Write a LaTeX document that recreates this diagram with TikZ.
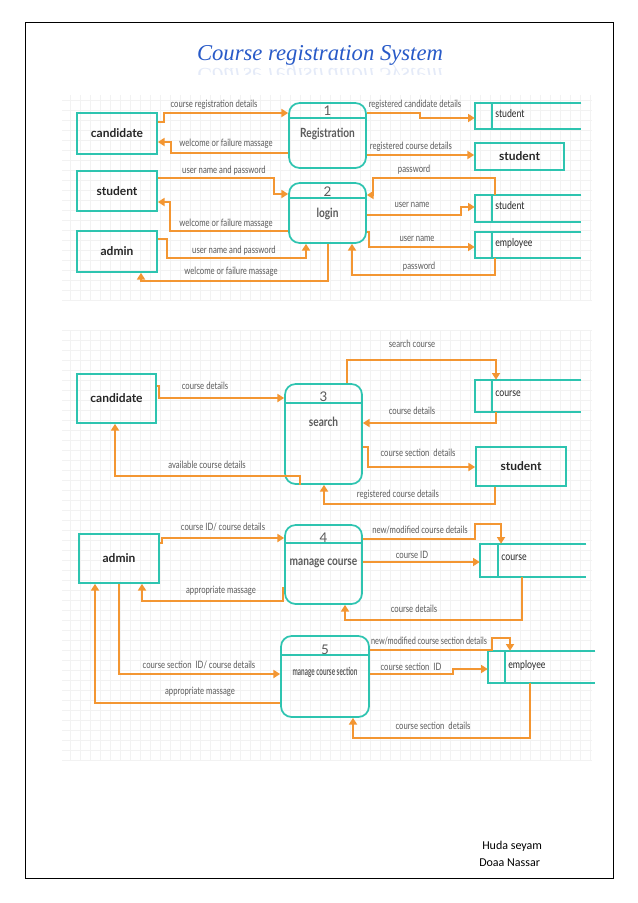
\documentclass[tikz,border=0pt]{standalone}
\usepackage{fontspec}
\setmainfont{Lato}
\newfontfamily\titlefont{Liberation Serif}
\newfontfamily\footfont{Carlito}
\usetikzlibrary{arrows.meta,calc}
\definecolor{tealc}{RGB}{46,196,176}
\definecolor{orc}{RGB}{243,150,50}
\definecolor{txt}{RGB}{90,90,90}
\definecolor{titleblue}{RGB}{40,90,200}
\def\px{0.75pt}
\begin{document}
\begin{tikzpicture}[x=0.75pt,y=-0.75pt,
  ent/.style={draw=tealc,line width=1.3pt,inner sep=0pt,font=\bfseries\fontsize{9}{10}\selectfont,text=black!85},
  proc/.style={draw=tealc,line width=1.3pt,rounded corners=8pt,inner sep=0pt},
  storebox/.style={inner sep=0pt},
  storeline/.style={draw=tealc,line width=1.3pt},
  stxt/.style={anchor=west,inner sep=1pt,font=\fontsize{8.2}{9}\selectfont,text=black!85,xscale=0.8},
  pnum/.style={inner sep=0pt,font=\fontsize{10}{11}\selectfont,text=txt},
  pname/.style={inner sep=0pt,font=\bfseries\fontsize{9.5}{11}\selectfont,text=txt,xscale=0.8},
  flow/.style={draw=orc,line width=1.4pt,-{Triangle[width=6pt,length=5pt]}},
  lbl/.style={inner sep=0pt,font=\fontsize{7.6}{9}\selectfont,text=txt,xscale=0.76}]
\useasboundingbox (0,0) rectangle (638,903);
\fill[white] (0,0) rectangle (638,903);
% grids
\draw[black!5,step=7.5pt] (62,95) grid (592,300);
\draw[black!5,step=7.5pt] (62,330) grid (592,760);
% frame
\draw[black,line width=0.5pt] (25,22) rectangle (613,878);
% title
\node[inner sep=0pt,font=\titlefont\itshape\fontsize{17}{20}\selectfont,text=titleblue] (title) at (320,55) {Course registration System};
\begin{scope}
\clip (150,64) rectangle (500,74);
\node[inner sep=0pt,font=\titlefont\itshape\fontsize{17}{20}\selectfont,text=titleblue,yscale=-1,opacity=0.12] (titlerefl) at (320,74) {Course registration System};
\end{scope}
% footer
\node[anchor=west,inner sep=0pt,font=\footfont\fontsize{9}{11}\selectfont] (f1) at (482,846) {Huda seyam};
\node[anchor=west,inner sep=0pt,font=\footfont\fontsize{9}{11}\selectfont] (f2) at (479,863) {Doaa Nassar};

% ===== section 1 =====
\node[ent,minimum width=80*\px,minimum height=41*\px] (cand) at (117,133.5) {candidate};
\node[ent,minimum width=80*\px,minimum height=40*\px] (stu) at (117,191) {student};
\node[ent,minimum width=80*\px,minimum height=41*\px] (adm) at (117,251.5) {admin};
\node[proc,minimum width=77*\px,minimum height=65*\px] (p1) at (327.5,135.5) {};
\draw[tealc,line width=1.3pt] (p1.west|-0,118) -- (p1.east|-0,118);
\node[pnum] (p1n) at (327.5,111) {1};
\node[pname] (p1t) at (327.5,134) {Registration};
\node[proc,minimum width=77*\px,minimum height=60*\px] (p2) at (327.5,213) {};
\draw[tealc,line width=1.3pt] (p2.west|-0,198) -- (p2.east|-0,198);
\node[pnum] (p2n) at (327.5,192) {2};
\node[pname] (p2t) at (327.5,214) {login};
% stores
\node[storebox,minimum width=106*\px,minimum height=26*\px] (s1) at (528,116) {};
\draw[storeline] (s1.north east)--(s1.north west)--(s1.south west)--(s1.south east);
\draw[storeline] (s1.north -| 492,0) -- (s1.south -| 492,0);
\node[stxt] (s1t) at (494,114) {student};
\node[ent,minimum width=89*\px,minimum height=27*\px] (bst) at (519.5,156.5) {student};
\node[storebox,minimum width=106*\px,minimum height=27*\px] (s2) at (528,208.5) {};
\draw[storeline] (s2.north east)--(s2.north west)--(s2.south west)--(s2.south east);
\draw[storeline] (s2.north -| 492,0) -- (s2.south -| 492,0);
\node[stxt] (s2t) at (494,206) {student};
\node[storebox,minimum width=106*\px,minimum height=26*\px] (s3) at (528,245) {};
\draw[storeline] (s3.north east)--(s3.north west)--(s3.south west)--(s3.south east);
\draw[storeline] (s3.north -| 492,0) -- (s3.south -| 492,0);
\node[stxt] (s3t) at (494,243) {employee};
% flows
\draw[flow] (cand.east|-0,122) -| (164,113) -- (p1.west|-0,113);
\draw[flow] (p1.west|-0,153) -| (171,142) -- (cand.east|-0,142);
\draw[flow] (p1.east|-0,113) -| (420,118) -- (s1.west|-0,118);
\draw[flow] (p1.east|-0,155) -- (bst.west|-0,155);
\draw[flow] (stu.east|-0,178) -| (274,194) -- (p2.west|-0,194);
\draw[flow] (p2.west|-0,231) -| (170,202) -- (stu.east|-0,202);
\draw[flow] (s2.north -| 495,0) -- (495,178) -| (373,195) -- (p2.east|-0,195);
\draw[flow] (p2.east|-0,215) -| (461,207) -- (s2.west|-0,207);
\draw[flow] (p2.east|-0,232) -| (369,247) -- (s3.west|-0,247);
\draw[flow] (s3.south -| 495,0) |- (352,275) -- (p2.south -| 352,0);
\draw[flow] (adm.east|-0,239) -| (167,258) -| (p2.south -| 306,0);
\draw[flow] (p2.south -| 328,0) |- (141,281) -- (adm.south -| 141,0);
\node[lbl] (l1) at (214,105) {course registration details};
\node[lbl] (l2) at (226,144) {welcome or failure massage};
\node[lbl] (l3) at (415,105) {registered candidate details};
\node[lbl] (l4) at (411,147) {registered course details};
\node[lbl] (l5) at (224,171) {user name and password};
\node[lbl] (l6) at (226,224) {welcome or failure massage};
\node[lbl] (l7) at (414,170) {password};
\node[lbl] (l8) at (412,205) {user name};
\node[lbl] (l9) at (417,239) {user name};
\node[lbl] (l10) at (419,267) {password};
\node[lbl] (l11) at (234,251) {user name and password};
\node[lbl] (l12) at (231,272) {welcome or failure massage};

% ===== section 2 =====
\node[ent,minimum width=79*\px,minimum height=49*\px] (cand2) at (116.5,398.5) {candidate};
\node[proc,minimum width=77*\px,minimum height=100*\px] (p3) at (323.5,434) {};
\draw[tealc,line width=1.3pt] (p3.west|-0,403) -- (p3.east|-0,403);
\node[pnum] (p3n) at (323.5,397) {3};
\node[pname] (p3t) at (323.5,422) {search};
\node[storebox,minimum width=106*\px,minimum height=32*\px] (c1s) at (528,396) {};
\draw[storeline] (c1s.north east)--(c1s.north west)--(c1s.south west)--(c1s.south east);
\draw[storeline] (c1s.north -| 492,0) -- (c1s.south -| 492,0);
\node[stxt] (c1t) at (494,394) {course};
\node[ent,minimum width=90*\px,minimum height=39*\px] (bst2) at (521,466.5) {student};
\draw[flow] (cand2.east|-0,386) -| (159,398) -- (p3.west|-0,398);
\draw[flow] (p3.north -| 347,0) |- (496,360) -- (c1s.north -| 496,0);
\draw[flow] (c1s.south -| 496,0) |- (p3.east|-0,423);
\draw[flow] (p3.east|-0,447) -| (368,467) -- (bst2.west|-0,467);
\draw[flow] (bst2.south -| 495,0) |- (324,504) -- (p3.south -| 324,0);
\draw[flow] (p3.south -| 300,0) |- (115,476) -- (cand2.south -| 115,0);
\node[lbl] (m1) at (205,386) {course details};
\node[lbl] (m2) at (412,344) {search course};
\node[lbl] (m3) at (412,411) {course details};
\node[lbl] (m4) at (418,453) {course section\ \ details};
\node[lbl] (m5) at (398,495) {registered course details};
\node[lbl] (m6) at (207,465) {available course details};

% ===== section 3 =====
\node[ent,minimum width=80*\px,minimum height=49*\px] (adm2) at (119,558.5) {admin};
\node[proc,minimum width=77*\px,minimum height=79*\px] (p4) at (323.5,564.5) {};
\draw[tealc,line width=1.3pt] (p4.west|-0,543) -- (p4.east|-0,543);
\node[pnum] (p4n) at (323.5,538) {4};
\node[pname] (p4t) at (323.5,563) {manage course};
\node[storebox,minimum width=106*\px,minimum height=33*\px] (cs) at (533,560.5) {};
\draw[storeline] (cs.north east)--(cs.north west)--(cs.south west)--(cs.south east);
\draw[storeline] (cs.north -| 498,0) -- (cs.south -| 498,0);
\node[stxt] (cst) at (500,558) {course};
\node[proc,minimum width=88*\px,minimum height=81*\px] (p5) at (325,676.5) {};
\draw[tealc,line width=1.3pt] (p5.west|-0,655) -- (p5.east|-0,655);
\node[pnum] (p5n) at (325,650) {5};
\node[pname,font=\bfseries\fontsize{8.3}{9}\selectfont,xscale=0.72] (p5t) at (325,672) {manage course section};
\node[storebox,minimum width=107*\px,minimum height=32*\px] (es) at (541.5,667) {};
\draw[storeline] (es.north east)--(es.north west)--(es.south west)--(es.south east);
\draw[storeline] (es.north -| 505,0) -- (es.south -| 505,0);
\node[stxt] (est) at (507,665) {employee};
\draw[flow] (adm2.east|-0,543) -| (162,538) -- (p4.west|-0,538);
\draw[flow] (p4.east|-0,539) -| (475,524) -| (cs.north -| 501,0);
\draw[flow] (p4.east|-0,562) -- (cs.west|-0,562);
\draw[flow] (cs.south -| 522,0) |- (345,620) -- (p4.south -| 345,0);
\draw[flow] (p4.west|-0,588) -| (283,601) -| (adm2.south -| 142,0);
\draw[flow] (adm2.south -| 119,0) |- (p5.west|-0,674);
\draw[flow] (p5.west|-0,703) -| (adm2.south -| 95,0);
\draw[flow] (p5.east|-0,650) -| (492,638) -| (es.north -| 510,0);
\draw[flow] (p5.east|-0,674) -| (453,669) -- (es.west|-0,669);
\draw[flow] (es.south -| 530,0) |- (353,738) -- (p5.south -| 353,0);
\node[lbl] (n1) at (223,527) {course ID/ course details};
\node[lbl] (n2) at (420,530) {new/modified course details};
\node[lbl] (n3) at (412,555) {course ID};
\node[lbl] (n4) at (414,609) {course details};
\node[lbl] (n5) at (221,591) {appropriate massage};
\node[lbl] (n6) at (199,665) {course section\ \ ID/ course details};
\node[lbl] (n7) at (200,692) {appropriate massage};
\node[lbl,xscale=0.95] (n8) at (429,641) {new/modified course section details};
\node[lbl] (n9) at (411,667) {course section\ \ ID};
\node[lbl] (n10) at (433,726) {course section\ \ details};
\end{tikzpicture}
\end{document}
